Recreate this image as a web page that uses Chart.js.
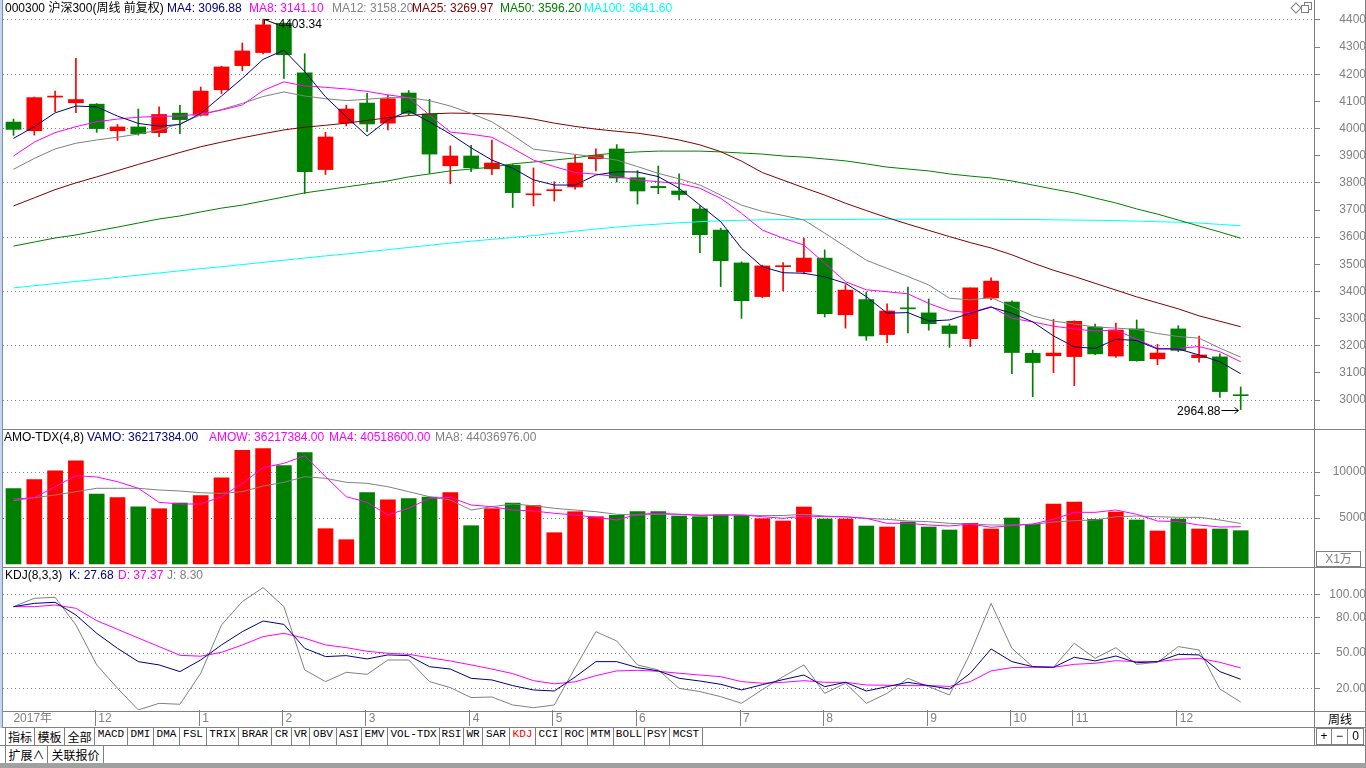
<!DOCTYPE html>
<html lang="zh-CN">
<head>
<meta charset="utf-8">
<title>000300 沪深300 周线</title>
<script src="https://cdn.jsdelivr.net/npm/chart.js@4.4.1/dist/chart.umd.min.js"></script>
<style>
    html, body { margin: 0; padding: 0; background: #fff; }
    body {
        width: 1366px; height: 768px; position: relative; overflow: hidden;
        font-family: 'Liberation Sans', Arial, 'Noto Sans CJK SC', sans-serif;
        font-size: 12px;
    }
    canvas { position: absolute; left: 3px; }
    .hline { position: absolute; left: 0; width: 1366px; height: 1px; background: #808080; }
    .vline { position: absolute; width: 1px; background: #808080; }
    .hdr { position: absolute; white-space: nowrap; font-size: 12px; line-height: 14px; }
    .tab {
        position: absolute; top: 728px; height: 17px; box-sizing: border-box;
        border-right: 1px solid #808080; text-align: center; line-height: 17px;
        font: 11px 'Liberation Mono', monospace; color: #000;
    }
    .tab.cn { font: 12px 'Noto Sans CJK SC', sans-serif; line-height: 17px; }
    .box {
        position: absolute; box-sizing: border-box; border: 1px solid #808080;
        text-align: center; font-size: 12px;
    }
</style>
</head>
<body>

<canvas id="priceChart" width="1363" height="428" style="top:0"></canvas>
<canvas id="volChart" width="1363" height="137" style="top:430px"></canvas>
<canvas id="kdjChart" width="1363" height="160" style="top:567px"></canvas>

<!-- frame lines -->
<div class="hline" style="top:429px"></div>
<div class="hline" style="top:567px"></div>
<div class="hline" style="top:711px"></div>
<div class="hline" style="top:727px"></div>
<div class="hline" style="top:745px"></div>
<div class="vline" style="left:1314px; top:0; height:746px"></div>
<div class="vline" style="left:1365px; top:0; height:763px"></div>
<div style="position:absolute; left:0; top:0; width:2px; height:728px; background:#c9d6e8"></div>
<div style="position:absolute; left:2px; top:0; width:1px; height:728px; background:#6f8fbf"></div>
<div style="position:absolute; left:0; top:763px; width:1366px; height:5px; background:#a0a0a0"></div>

<!-- price panel header -->
<div class="hdr" style="left:5px; top:1px; color:#000">000300 沪深300(周线 前复权)</div>
<div class="hdr" style="left:167px; top:1px; color:#000080">MA4: 3096.88</div>
<div class="hdr" style="left:249px; top:1px; color:#ff00ff">MA8: 3141.10</div>
<div class="hdr" style="left:332px; top:1px; color:#808080">MA12: 3158.20</div>
<div class="hdr" style="left:412px; top:1px; color:#800000">MA25: 3269.97</div>
<div class="hdr" style="left:500px; top:1px; color:#008000">MA50: 3596.20</div>
<div class="hdr" style="left:584px; top:1px; color:#00ffff">MA100: 3641.60</div>
<div style="position:absolute; left:1292px; top:4px; width:6px; height:6px; border:1px solid #808080; transform:rotate(45deg)"></div>
<div style="position:absolute; left:1304px; top:2px; width:6px; height:6px; border:1px solid #808080"></div>
<div style="position:absolute; left:1301px; top:5px; width:6px; height:6px; border:1px solid #808080; background:#fff"></div>

<!-- volume panel header -->
<div class="hdr" style="left:4px; top:430px; color:#000">AMO-TDX(4,8)</div>
<div class="hdr" style="left:87px; top:430px; color:#000080">VAMO: 36217384.00</div>
<div class="hdr" style="left:209px; top:430px; color:#ff00ff">AMOW: 36217384.00</div>
<div class="hdr" style="left:329px; top:430px; color:#ff00ff">MA4: 40518600.00</div>
<div class="hdr" style="left:435px; top:430px; color:#808080">MA8: 44036976.00</div>
<div class="box" style="left:1316px; top:551px; width:45px; height:16px; line-height:14px; color:#808080">X1万</div>

<!-- KDJ panel header -->
<div class="hdr" style="left:5px; top:568px; color:#000">KDJ(8,3,3)</div>
<div class="hdr" style="left:69px; top:568px; color:#000080">K: 27.68</div>
<div class="hdr" style="left:118px; top:568px; color:#ff00ff">D: 37.37</div>
<div class="hdr" style="left:167px; top:568px; color:#808080">J: 8.30</div>

<!-- right column, bottom rows -->
<div class="hdr" style="left:1328px; top:712px; color:#000; font-family:'Noto Sans CJK SC'">周线</div>
<div class="box" style="left:1316px; top:728px; width:16px; height:17px; line-height:15px">+</div>
<div class="box" style="left:1331px; top:728px; width:17px; height:17px; line-height:15px">−</div>
<div class="box" style="left:1347px; top:728px; width:17px; height:17px; line-height:15px">0</div>
<div id="tabs"></div>
<div class="tab cn" style="left:5px; top:746px; width:43px; border-left:1px solid #808080">扩展∧</div>
<div class="tab cn" style="left:48px; top:746px; width:56px">关联报价</div>

<script>
// ---- weekly data, 000300 (Nov 2017 - Dec 2018), one entry per week ----
const opens = [4024, 3992, 4116, 4095, 4090, 3992, 4006, 3985, 4057, 4049,
    4143, 4232, 4280, 4388, 4205, 3849, 4020, 4094, 4020, 4131,
    4054, 3863, 3899, 3852, 3865, 3756, 3771, 3785, 3889, 3925,
    3819, 3787, 3770, 3704, 3626, 3505, 3381, 3491, 3472, 3523,
    3314, 3370, 3241, 3339, 3321, 3273, 3226, 3376, 3361, 3172,
    3163, 3160, 3269, 3162, 3262, 3152, 3262, 3156, 3159, 3018];
const highs = [4035, 4116, 4138, 4259, 4092, 4015, 4072, 4080, 4086, 4153,
    4230, 4315, 4403.34, 4390, 4276, 3986, 4086, 4130, 4123, 4140,
    4108, 3936, 3938, 3958, 3868, 3855, 3804, 3901, 3925, 3941,
    3845, 3862, 3833, 3715, 3633, 3509, 3497, 3506, 3597, 3553,
    3425, 3398, 3354, 3416, 3372, 3280, 3413, 3450, 3365, 3184,
    3297, 3292, 3280, 3283, 3295, 3205, 3274, 3236, 3170, 3048];
const lows = [3975, 3976, 4062, 4059, 3986, 3956, 3976, 3970, 3981, 4046,
    4129, 4213, 4275, 4185, 3761, 3831, 4010, 3989, 3995, 4050,
    3835, 3797, 3841, 3830, 3709, 3715, 3733, 3777, 3844, 3803,
    3722, 3760, 3737, 3543, 3418, 3301, 3377, 3402, 3465, 3306,
    3265, 3220, 3211, 3247, 3257, 3194, 3197, 3370, 3097, 3012,
    3101, 3053, 3167, 3157, 3143, 3130, 3178, 3139, 3010, 2964.88];
const closes = [3997, 4114, 4119, 4107, 4000, 4006, 3981, 4052, 4033, 4138,
    4227, 4286, 4382, 4272, 3841, 3969, 4072, 4017, 4110, 4056,
    3906, 3899, 3856, 3873, 3764, 3759, 3775, 3873, 3901, 3818,
    3770, 3782, 3757, 3609, 3513, 3366, 3494, 3495, 3523, 3318,
    3405, 3236, 3328, 3336, 3281, 3245, 3413, 3438, 3175, 3138,
    3173, 3290, 3170, 3258, 3145, 3173, 3183, 3166, 3031, 3016];

const ma4 = [3964, 4007, 4058, 4083, 4080, 4046, 4019, 4009, 4015, 4056,
    4120, 4185, 4255, 4289, 4210, 4117, 4044, 3973, 4032, 4065,
    4025, 3980, 3929, 3884, 3854, 3811, 3792, 3792, 3829, 3841,
    3840, 3823, 3780, 3718, 3657, 3559, 3491, 3469, 3467, 3454,
    3430, 3381, 3320, 3322, 3291, 3295, 3320, 3342, 3320, 3288,
    3236, 3196, 3190, 3224, 3219, 3188, 3188, 3166, 3141, 3097];
const ma8 = [3899, 3950, 3985, 4007, 4025, 4035, 4042, 4045, 4046, 4054,
    4068, 4087, 4140, 4172, 4157, 4152, 4146, 4137, 4124, 4114,
    4050, 3987, 3979, 3968, 3927, 3884, 3860, 3838, 3832, 3823,
    3811, 3804, 3798, 3780, 3743, 3688, 3626, 3596, 3571, 3504,
    3436, 3406, 3399, 3391, 3356, 3328, 3322, 3344, 3301, 3288,
    3272, 3262, 3254, 3258, 3224, 3190, 3190, 3197, 3178, 3141];
const ma12 = [3850, 3890, 3925, 3946, 3958, 3968, 3980, 3995, 4018, 4050,
    4070, 4093, 4118, 4135, 4120, 4110, 4103, 4108, 4114, 4114,
    4103, 4083, 4056, 4025, 3976, 3924, 3915, 3905, 3895, 3884,
    3860, 3835, 3815, 3792, 3755, 3718, 3695, 3680, 3663, 3615,
    3565, 3515, 3485, 3455, 3424, 3375, 3369, 3377, 3344, 3310,
    3291, 3280, 3269, 3265, 3260, 3245, 3234, 3228, 3191, 3158];
const ma25 = [3715, 3745, 3775, 3800, 3822, 3845, 3868, 3890, 3912, 3933,
    3950, 3966, 3981, 3995, 4005, 4012, 4020, 4030, 4040, 4048,
    4054, 4057, 4056, 4054, 4046, 4035, 4020, 4008, 3998, 3990,
    3983, 3972, 3958, 3940, 3915, 3880, 3838, 3810, 3782, 3755,
    3725, 3698, 3672, 3648, 3625, 3602, 3580, 3560, 3535, 3505,
    3478, 3455, 3430, 3405, 3380, 3358, 3336, 3310, 3290, 3270];
const ma50 = [3567, 3582, 3597, 3608, 3623, 3637, 3652, 3667, 3678, 3693,
    3707, 3718, 3733, 3748, 3763, 3774, 3785, 3796, 3807, 3822,
    3833, 3844, 3851, 3858, 3870, 3877, 3884, 3892, 3903, 3910,
    3914, 3917, 3917, 3917, 3914, 3910, 3906, 3899, 3895, 3888,
    3881, 3870, 3858, 3851, 3844, 3833, 3825, 3818, 3807, 3792,
    3777, 3763, 3744, 3726, 3704, 3685, 3663, 3641, 3619, 3596];
const ma100 = [3413, 3421, 3429, 3437, 3444, 3452, 3460, 3468, 3476, 3484,
    3491, 3499, 3507, 3515, 3523, 3531, 3538, 3546, 3554, 3562,
    3570, 3578, 3585, 3592, 3599, 3606, 3614, 3622, 3630, 3637,
    3643, 3648, 3653, 3657, 3660, 3662, 3664, 3665, 3665, 3665,
    3665, 3666, 3666, 3666, 3666, 3666, 3666, 3666, 3665, 3665,
    3664, 3663, 3662, 3661, 3659, 3657, 3655, 3652, 3647, 3642];

// turnover, in units of 10k (X1万)
const volume = [8185, 9163, 10141, 11228, 7609, 7207, 6228, 6011, 6630, 7424,
    9380, 12359, 12533, 10685, 12098, 3837, 2641, 7750, 6989, 7098,
    7283, 7750, 4163, 6011, 6630, 6337, 3402, 5685, 5141, 5294,
    5685, 5685, 5218, 5141, 5326, 5272, 4925, 4674, 6196, 4891,
    4891, 4130, 4022, 4565, 4022, 3696, 4420, 3804, 5000, 4312,
    6522, 6739, 4855, 5652, 4783, 3587, 4891, 3804, 3804, 3622];
const volMa4 = [7065, 7207, 8402, 9598, 9457, 8946, 8228, 6707, 6522, 6522,
    7315, 8772, 10467, 10946, 11772, 9489, 7315, 6707, 5326, 6054,
    7141, 7250, 6413, 6228, 5870, 5761, 5511, 5326, 5076, 4783,
    5402, 5511, 5402, 5272, 5326, 5326, 5141, 4964, 5218, 5141,
    5141, 4964, 4420, 4420, 4239, 4130, 4348, 3985, 4167, 4348,
    4855, 5615, 5615, 5870, 5402, 4674, 4602, 4239, 4020, 4052];
const volMa8 = [6885, 7207, 7500, 7861, 8228, 8228, 8228, 8044, 7935, 7750,
    7678, 7861, 8478, 8881, 9489, 9315, 8881, 8772, 8402, 7861,
    7315, 6957, 5870, 6228, 6522, 6337, 6054, 5870, 5685, 5402,
    5326, 5402, 5402, 5326, 5326, 5326, 5272, 5272, 5402, 5218,
    5109, 4964, 4855, 4674, 4602, 4420, 4348, 4239, 4239, 4312,
    4565, 4710, 4783, 5141, 5218, 5141, 5076, 5076, 4783, 4404];

const kdjK = [89.5, 92.3, 93.2, 82.4, 66.8, 54.0, 42.7, 39.9, 34.2, 44.1,
    56.9, 68.2, 77.3, 74.4, 54.0, 47.0, 47.8, 45.0, 48.4, 47.8,
    38.4, 36.4, 28.5, 27.1, 22.3, 18.6, 17.7, 29.6, 42.7, 42.7,
    37.6, 34.8, 28.5, 26.2, 23.4, 18.6, 23.1, 27.4, 31.3, 21.4,
    25.1, 17.7, 21.4, 25.1, 22.3, 19.4, 32.8, 53.5, 42.7, 38.4,
    37.9, 46.4, 43.3, 47.5, 41.8, 42.7, 48.9, 48.4, 34.2, 27.68];
const kdjD = [89.5, 89.5, 90.9, 88.1, 77.6, 70.2, 62.8, 55.5, 48.1, 47.3,
    50.6, 56.9, 64.0, 66.8, 62.6, 56.9, 54.6, 51.5, 49.8, 48.9,
    46.0, 43.3, 39.9, 36.4, 32.5, 26.5, 23.8, 25.5, 30.8, 34.8,
    35.3, 34.5, 32.8, 31.3, 29.9, 25.7, 24.3, 25.1, 26.5, 25.1,
    25.1, 22.8, 22.6, 22.3, 22.3, 21.6, 25.7, 34.8, 37.6, 37.9,
    37.9, 40.4, 41.3, 43.5, 42.7, 42.7, 44.7, 45.5, 42.1, 37.37];
const kdjJ = [89.5, 96.6, 97.5, 73.9, 39.9, 20.0, 1.6, 7.2, 6.4, 32.8,
    73.9, 93.8, 105.7, 89.5, 35.6, 25.7, 33.6, 31.9, 44.1, 44.1,
    25.7, 20.6, 12.1, 12.6, 5.8, 3.5, 5.8, 37.4, 68.2, 60.3,
    39.9, 35.6, 20.0, 17.2, 12.9, 7.2, 18.9, 29.9, 39.9, 15.7,
    24.3, 7.2, 15.7, 28.5, 21.4, 14.3, 49.8, 92.3, 54.0, 38.4,
    37.9, 58.3, 45.5, 54.6, 40.4, 42.1, 55.5, 52.6, 19.4, 8.3];

// axis ticks
const priceTicks = [3000, 3100, 3200, 3300, 3400, 3500, 3600, 3700, 3800, 3900, 4000, 4100, 4200, 4300, 4400];
const volTicks = [5000, 7500, 10000];
const kdjTicks = [20, 50, 80, 100];
const dateTickPos = [-0.15, 3.93, 8.93, 12.93, 16.93, 21.93, 25.93, 29.93, 34.93, 38.93, 43.93, 47.93, 50.93, 55.93];
const dateTickLabels = ['2017年', '12', '1', '2', '3', '4', '5', '6', '7', '8', '9', '10', '11', '12'];

// tab strip
const tabNames = ['指标', '模板', '全部', 'MACD', 'DMI', 'DMA', 'FSL', 'TRIX', 'BRAR', 'CR', 'VR', 'OBV', 'ASI',
    'EMV', 'VOL-TDX', 'RSI', 'WR', 'SAR', 'KDJ', 'CCI', 'ROC', 'MTM', 'BOLL', 'PSY', 'MCST'];
const tabEdges = [5, 35, 65, 95, 128, 154, 180, 207, 239, 272, 292, 310, 337, 362, 388, 440, 464, 483, 510,
    536, 562, 588, 614, 645, 670, 703];

// ---- chart setup ----
const RED = '#ff0000';
const GREEN = '#008000';
const GREY = '#808080';
const FONT = "'Liberation Sans', Arial, 'Noto Sans CJK SC', sans-serif";
// one unit per week; first candle centred 10.5px into the plot area, 20.8px apart
const X_MIN = -0.505;
const X_MAX = 62.524;

Chart.defaults.font.family = FONT;
Chart.defaults.font.size = 12;

function candleColor(i) {
    return closes[i] >= opens[i] ? RED : GREEN;
}

function points(arr) {
    return arr.map((v, i) => ({ x: i, y: v }));
}

function lineSet(arr, color) {
    return {
        type: 'line', data: points(arr), borderColor: color, borderWidth: 1,
        pointRadius: 0, tension: 0, fill: false, order: 0
    };
}

function hiddenX() {
    return { type: 'linear', min: X_MIN, max: X_MAX, offset: false, display: false };
}

// keep the axis from reserving label room above/below the plot
function fixBox(s) {
    s.paddingTop = 0;
    s.paddingBottom = 0;
    s.paddingLeft = 0;
    s.paddingRight = 0;
}

// right-hand value axis with dotted gridlines on chosen ticks
function valueAxis(min, max, ticks, gridTest, labelFn, padding) {
    return {
        position: 'right', min: min, max: max, beginAtZero: false,
        afterBuildTicks: s => { s.ticks = ticks.map(v => ({ value: v })); },
        afterFit: s => { s.width = 52; fixBox(s); },
        grid: {
            color: c => (c.tick && gridTest(c.tick.value)) ? GREY : 'rgba(0,0,0,0)',
            tickColor: GREY, tickLength: 6, lineWidth: 1
        },
        border: { display: false, dash: [1, 3] },
        ticks: {
            color: GREY, padding: padding, crossAlign: 'far', autoSkip: false,
            font: { size: 12 }, callback: labelFn
        }
    };
}

function baseOptions(padding, scales) {
    return {
        responsive: false, animation: false, devicePixelRatio: 1, events: [],
        layout: { padding: padding },
        plugins: { legend: { display: false }, tooltip: { enabled: false } },
        scales: scales
    };
}

// marks for the highest high and the lowest low
const extremeMarks = {
    id: 'extremeMarks',
    afterDatasetsDraw(chart) {
        const { ctx, scales: { x, y } } = chart;
        ctx.save();
        ctx.font = '12px ' + FONT;
        ctx.fillStyle = '#000';
        ctx.strokeStyle = '#000';
        ctx.lineWidth = 1;

        const hi = highs.indexOf(Math.max(...highs));
        let px = Math.round(x.getPixelForValue(hi)) + 0.5;
        let py = Math.round(y.getPixelForValue(highs[hi])) + 0.5;
        ctx.beginPath();
        ctx.moveTo(px + 1, py);
        ctx.lineTo(px + 14, py + 5);
        ctx.moveTo(px + 1, py);
        ctx.lineTo(px + 6, py);
        ctx.moveTo(px + 1, py);
        ctx.lineTo(px + 1, py + 5);
        ctx.stroke();
        ctx.textAlign = 'left';
        ctx.textBaseline = 'middle';
        ctx.fillText(highs[hi].toFixed(2), px + 15, py + 5);

        const lo = lows.indexOf(Math.min(...lows));
        px = Math.round(x.getPixelForValue(lo)) + 0.5;
        py = Math.round(y.getPixelForValue(lows[lo])) + 0.5;
        ctx.beginPath();
        ctx.moveTo(px - 20, py);
        ctx.lineTo(px - 3, py);
        ctx.moveTo(px - 7, py - 3);
        ctx.lineTo(px - 3, py);
        ctx.lineTo(px - 7, py + 3);
        ctx.stroke();
        ctx.textAlign = 'right';
        ctx.fillText(lows[lo].toFixed(2), px - 21, py + 1);
        ctx.restore();
    }
};

function initPriceChart() {
    const idx = opens.map((_, i) => i);
    new Chart(document.getElementById('priceChart'), {
        type: 'bar',
        data: {
            datasets: [
                lineSet(ma4, '#000080'),
                lineSet(ma8, '#ff00ff'),
                lineSet(ma12, GREY),
                lineSet(ma25, '#800000'),
                lineSet(ma50, GREEN),
                lineSet(ma100, '#00ffff'),
                {
                    // candle bodies
                    data: idx.map(i => ({ x: i, y: [opens[i], closes[i]] })),
                    backgroundColor: c => candleColor(c.dataIndex),
                    barThickness: 15, minBarLength: 1, grouped: false, order: 1
                },
                {
                    // wicks
                    data: idx.map(i => ({ x: i, y: [lows[i], highs[i]] })),
                    backgroundColor: c => candleColor(c.dataIndex),
                    barThickness: 1, grouped: false, order: 2
                }
            ]
        },
        options: baseOptions({ top: 14, bottom: 2, left: 0, right: 0 }, {
            x: hiddenX(),
            y: valueAxis(2904.3, 4422.1, priceTicks, v => v % 200 === 0, v => v, 15)
        }),
        plugins: [extremeMarks]
    });
}

function initVolumeChart() {
    new Chart(document.getElementById('volChart'), {
        type: 'bar',
        data: {
            datasets: [
                lineSet(volMa4, '#ff00ff'),
                lineSet(volMa8, GREY),
                {
                    data: points(volume),
                    backgroundColor: c => candleColor(c.dataIndex),
                    barThickness: 15, grouped: false, order: 1
                }
            ]
        },
        options: baseOptions({ top: 1, bottom: 1, left: 0, right: 0 }, {
            x: hiddenX(),
            y: valueAxis(-217, 14457, volTicks, v => v % 5000 === 0, v => (v % 5000 === 0 ? v : ''), 9)
        })
    });
}

function initKdjChart() {
    new Chart(document.getElementById('kdjChart'), {
        type: 'line',
        data: {
            datasets: [
                lineSet(kdjK, '#000080'),
                lineSet(kdjD, '#ff00ff'),
                lineSet(kdjJ, GREY)
            ]
        },
        options: baseOptions({ top: 1, bottom: 0, left: 0, right: 0 }, {
            x: {
                type: 'linear', min: X_MIN, max: X_MAX, offset: false, position: 'bottom',
                afterBuildTicks: s => { s.ticks = dateTickPos.map(v => ({ value: v })); },
                afterFit: s => { s.height = 17; fixBox(s); },
                grid: {
                    drawOnChartArea: false, tickLength: 16,
                    tickColor: c => (c.index === 0 ? 'rgba(0,0,0,0)' : GREY)
                },
                border: { display: false },
                ticks: {
                    color: GREY, autoSkip: false, maxRotation: 0, align: 'start',
                    labelOffset: 3, padding: -15, font: { size: 12 },
                    callback: (v, i) => dateTickLabels[i]
                }
            },
            y: valueAxis(1.53, 122.4, kdjTicks, () => true, v => v.toFixed(2), 5)
        })
    });
}

function buildTabs() {
    const strip = document.getElementById('tabs');
    tabNames.forEach((name, i) => {
        const tab = document.createElement('div');
        tab.className = 'tab' + (i < 3 ? ' cn' : '');
        tab.style.left = tabEdges[i] + 'px';
        tab.style.width = (tabEdges[i + 1] - tabEdges[i]) + 'px';
        if (i === 0) tab.style.borderLeft = '1px solid ' + GREY;
        if (name === 'KDJ') tab.style.color = RED;
        tab.textContent = name;
        strip.appendChild(tab);
    });
}

buildTabs();
initPriceChart();
initVolumeChart();
initKdjChart();
</script>
</body>
</html>
